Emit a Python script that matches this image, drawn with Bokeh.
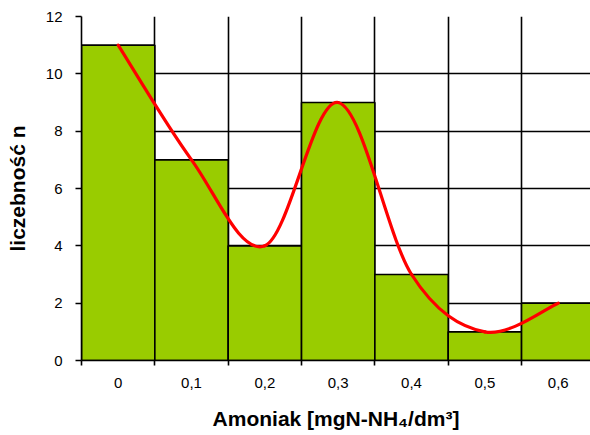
from bokeh.plotting import figure
from bokeh.models import Range1d, FixedTicker, ColumnDataSource
from bokeh.embed import file_html
from bokeh.resources import INLINE

# Data
categories = ["0", "0,1", "0,2", "0,3", "0,4", "0,5", "0,6"]
counts = [11, 7, 4, 9, 3, 1, 2]
y_ticks = [0, 2, 4, 6, 8, 10, 12]

n = len(counts)
lefts = list(range(n))
rights = [i + 1 for i in range(n)]
centers = [i + 0.5 for i in range(n)]
edges = list(range(n + 1))

p = figure(width=590, height=432,
           x_range=Range1d(0, 6.94), y_range=Range1d(0, 12),
           output_backend="svg", toolbar_location=None,
           min_border_left=81, min_border_right=0,
           min_border_top=16, min_border_bottom=72)

p.background_fill_color = "white"
p.border_fill_color = "white"
p.outline_line_color = None

# bars
p.quad(left=lefts, right=rights, bottom=0, top=counts,
       fill_color="#99CC00", line_color="black", line_width=1.6)

# smooth curve (Catmull-Rom style bezier through bar tops)
x0, y0, x1, y1, cx0, cy0, cx1, cy1 = [], [], [], [], [], [], [], []
for i in range(n - 1):
    pm_x, pm_y = centers[max(i - 1, 0)], counts[max(i - 1, 0)]
    pa_x, pa_y = centers[i], counts[i]
    pb_x, pb_y = centers[i + 1], counts[i + 1]
    pn_x, pn_y = centers[min(i + 2, n - 1)], counts[min(i + 2, n - 1)]
    x0.append(pa_x); y0.append(pa_y); x1.append(pb_x); y1.append(pb_y)
    cx0.append(pa_x + (pb_x - pm_x) / 6); cy0.append(pa_y + (pb_y - pm_y) / 6)
    cx1.append(pb_x - (pn_x - pa_x) / 6); cy1.append(pb_y - (pn_y - pa_y) / 6)
src = ColumnDataSource(dict(x0=x0, y0=y0, x1=x1, y1=y1, cx0=cx0, cy0=cy0, cx1=cx1, cy1=cy1))
p.bezier(x0="x0", y0="y0", x1="x1", y1="y1", cx0="cx0", cy0="cy0", cx1="cx1", cy1="cy1",
         source=src, line_color="#FF0000", line_width=3.2, line_cap="round")

# grids
p.xgrid.ticker = FixedTicker(ticks=edges)
p.ygrid.ticker = FixedTicker(ticks=y_ticks)
for g in (p.xgrid, p.ygrid):
    g.grid_line_color = "black"
    g.grid_line_width = 1.6

# x axis
xa = p.xaxis[0]
xa.ticker = FixedTicker(ticks=centers, minor_ticks=edges)
xa.major_label_overrides = {c: lbl for c, lbl in zip(centers, categories)}
xa.major_tick_out = 0
xa.major_tick_in = 0
xa.minor_tick_out = 5
xa.minor_tick_in = 0
xa.minor_tick_line_color = "black"
xa.minor_tick_line_width = 1.6
xa.axis_line_color = "black"
xa.axis_line_width = 1.6
xa.major_label_standoff = 12
xa.major_label_text_font = "Liberation Sans"
xa.major_label_text_font_size = "15px"
xa.major_label_text_color = "black"
xa.axis_label = "Amoniak [mgN-NH₄/dm³]"
xa.axis_label_text_font = "Liberation Sans"
xa.axis_label_text_font_style = "bold"
xa.axis_label_text_font_size = "21px"
xa.axis_label_text_color = "black"
xa.axis_label_standoff = 16

# y axis
ya = p.yaxis[0]
ya.ticker = FixedTicker(ticks=y_ticks)
ya.major_tick_out = 6
ya.major_tick_in = 0
ya.minor_tick_out = 0
ya.minor_tick_in = 0
ya.major_tick_line_color = "black"
ya.major_tick_line_width = 1.6
ya.axis_line_color = "black"
ya.axis_line_width = 1.6
ya.major_label_standoff = 13
ya.major_label_text_font = "Liberation Sans"
ya.major_label_text_font_size = "15px"
ya.major_label_text_color = "black"
ya.axis_label = "liczebność n"
ya.axis_label_text_font = "Liberation Sans"
ya.axis_label_text_font_style = "bold"
ya.axis_label_text_font_size = "21px"
ya.axis_label_text_color = "black"
ya.axis_label_standoff = 14

open("out.html", "w").write(file_html(p, INLINE))
